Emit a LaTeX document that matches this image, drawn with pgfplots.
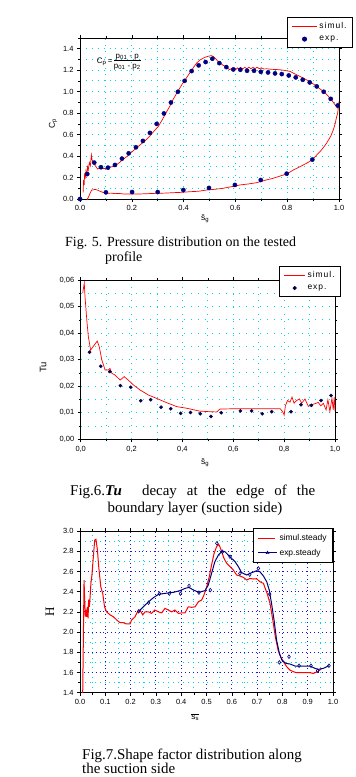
\documentclass[border=0pt]{standalone}
\usepackage{fontspec}
\setmainfont{Liberation Serif}
\setsansfont{Liberation Sans}
\usepackage{pgfplots}
\pgfplotsset{compat=1.18}
\definecolor{navyb}{RGB}{0,0,128}
\definecolor{gridc}{RGB}{0,215,225}
\definecolor{gridb}{RGB}{20,20,220}
\newcommand{\legfont}{\sffamily\fontsize{8.5}{10}\selectfont\addfontfeature{LetterSpace=12}}
\pgfplotsset{
  myax/.style={
    scale only axis, anchor=south west,
    axis line style={black, line width=0.8bp},
    tick style={black, line width=0.6bp},
    tick align=outside,
    major tick length=3bp, minor tick length=2bp,
    tick label style={font=\sffamily\fontsize{7.5}{8}\selectfont},
    /pgf/number format/assume math mode=true,
    label style={font=\sffamily\fontsize{8.5}{9}\selectfont},
    ylabel style={rotate=0, anchor=center},
    xlabel style={anchor=center},
    legend style={draw=black, line width=0.8bp, fill=white, font=\legfont, cells={anchor=west}, inner xsep=4bp, inner ysep=3bp, row sep=2bp},
    grid=both,
  },
  longline/.style={legend image code/.code={\draw[##1] (0bp,0bp) -- (#1,0bp);}},
  dotleg/.style={legend image code/.code={\draw[##1] plot coordinates {(#1/2,0bp)}; \path[draw=none] (0bp,0bp) -- (#1,0bp);}},
  explegend/.style={legend image code/.code={\draw[##1] (0bp,0bp) -- (19bp,0bp); \draw[navyb, line width=0.6bp] plot[mark=triangle, mark size=1.6bp] coordinates {(9.5bp,0bp)};}},
}
\begin{document}
\begin{tikzpicture}
\useasboundingbox (0,0) rectangle (356bp,-777bp);
% ---------------- Fig. 5 ----------------
\begin{axis}[myax, at={(80bp,-199bp)}, width=259bp, height=161bp,
  xmin=0, xmax=1, ymin=0, ymax=1.5,
  xtick={0,0.2,0.4,0.6,0.8,1.0}, minor xtick={0.1,0.3,0.5,0.7,0.9},
  ytick={0,0.2,0.4,0.6,0.8,1.0,1.2,1.4}, minor ytick={0.1,0.3,0.5,0.7,0.9,1.1,1.3,1.5},
  xticklabel style={/pgf/number format/.cd, fixed, fixed zerofill, precision=1},
  yticklabel style={/pgf/number format/.cd, fixed, fixed zerofill, precision=1},
  grid style={gridc, line width=0.9bp, dash pattern=on 0.9bp off 5bp},
  minor grid style={gridc, line width=0.9bp, dash pattern=on 0.9bp off 5bp},
  xlabel={\={s}\textsubscript{g}}, ylabel={C\textsubscript{p}},
  xlabel style={at={(axis description cs:0.483,-0.124)}},
  ylabel style={at={(axis description cs:-0.104,0.47)}},
  legend style={at={(1.054,1.13)}, anchor=north east},
]
\addplot[red, line width=0.7bp, longline=25bp] coordinates {
(0.012,0.06)(0.014,0.18)(0.016,0.13)(0.018,0.24)(0.020,0.19)(0.023,0.26)(0.026,0.22)(0.029,0.30)(0.032,0.27)(0.036,0.34)(0.040,0.31)(0.044,0.41)(0.047,0.36)(0.051,0.35)(0.056,0.32)(0.062,0.30)(0.068,0.28)(0.075,0.285)(0.082,0.30)(0.090,0.285)(0.100,0.285)(0.115,0.295)(0.135,0.308)(0.150,0.335)(0.167,0.370)(0.183,0.400)(0.199,0.436)(0.215,0.470)(0.232,0.504)(0.250,0.540)(0.270,0.588)(0.285,0.630)(0.302,0.675)(0.318,0.740)(0.335,0.815)(0.348,0.870)(0.360,0.930)(0.377,1.000)(0.393,1.064)(0.410,1.125)(0.425,1.179)(0.438,1.225)(0.450,1.266)(0.463,1.295)(0.476,1.313)(0.488,1.325)(0.500,1.333)(0.508,1.335)(0.515,1.328)(0.521,1.313)(0.530,1.290)(0.541,1.266)(0.553,1.245)(0.566,1.229)(0.572,1.215)(0.578,1.205)(0.584,1.215)(0.590,1.205)(0.596,1.220)(0.602,1.208)(0.608,1.222)(0.614,1.210)(0.620,1.225)(0.628,1.212)(0.636,1.226)(0.644,1.214)(0.652,1.228)(0.660,1.214)(0.668,1.226)(0.676,1.215)(0.684,1.228)(0.692,1.214)(0.700,1.222)(0.710,1.212)(0.722,1.213)(0.740,1.208)(0.760,1.206)(0.772,1.204)(0.790,1.198)(0.811,1.189)(0.824,1.172)(0.837,1.157)(0.850,1.141)(0.862,1.126)(0.875,1.110)(0.888,1.095)(0.900,1.073)(0.914,1.049)(0.927,1.025)(0.940,1.002)(0.953,0.972)(0.965,0.940)(0.975,0.910)(0.985,0.877)(0.993,0.855)(0.997,0.84)(1.000,0.91)
(0.998,0.87)(0.995,0.80)(0.991,0.768)(0.985,0.700)(0.978,0.644)(0.968,0.585)(0.952,0.520)(0.940,0.480)(0.927,0.442)(0.912,0.405)(0.897,0.367)(0.880,0.340)(0.862,0.317)(0.843,0.293)(0.824,0.271)(0.810,0.250)(0.798,0.233)(0.770,0.212)(0.746,0.193)(0.715,0.175)(0.682,0.152)(0.650,0.140)(0.618,0.131)(0.585,0.115)(0.553,0.100)(0.520,0.090)(0.489,0.084)(0.457,0.072)(0.425,0.068)(0.392,0.062)(0.360,0.059)(0.328,0.055)(0.296,0.053)(0.264,0.050)(0.232,0.047)(0.200,0.047)(0.167,0.047)(0.150,0.052)(0.135,0.050)(0.120,0.055)(0.103,0.053)(0.090,0.060)(0.080,0.070)(0.070,0.080)(0.058,0.090)(0.052,0.085)(0.045,0.084)(0.040,0.060)(0.035,0.030)(0.030,0.005)(0.027,-0.01)
};
\addlegendentry{simul.}
\addplot[only marks, mark=*, mark size=2.1bp, navyb, dotleg=25bp] coordinates {
(0,0)(0.028,0.233)(0.055,0.339)(0.081,0.296)(0.108,0.292)(0.135,0.317)(0.162,0.376)(0.188,0.426)(0.216,0.482)(0.243,0.541)(0.270,0.616)(0.296,0.700)(0.324,0.797)(0.351,0.899)(0.378,0.999)(0.404,1.101)(0.431,1.192)(0.458,1.245)(0.485,1.276)(0.511,1.307)(0.538,1.266)(0.565,1.229)(0.592,1.207)(0.619,1.204)(0.645,1.195)(0.672,1.195)(0.698,1.185)(0.726,1.179)(0.753,1.170)(0.779,1.164)(0.806,1.151)(0.833,1.133)(0.860,1.111)(0.887,1.086)(0.914,1.049)(0.941,0.999)(0.968,0.933)(0.995,0.871)
(0.100,0.062)(0.201,0.065)(0.300,0.065)(0.399,0.084)(0.498,0.103)(0.598,0.131)(0.698,0.177)(0.798,0.236)(0.897,0.367)
};
\addlegendentry{exp.}
\node[font=\sffamily\fontsize{8}{9}\selectfont] at (axis cs:0.15,1.28) {C\textsubscript{p}\,=\,\begin{tabular}{@{}c@{}}p\textsubscript{01} - p\\[-1pt]\hline\rule{0pt}{8pt}p\textsubscript{01} - p\textsubscript{2}\end{tabular}};
\end{axis}
% captions fig 5
\node[anchor=base west, font=\fontsize{14}{15}\selectfont, inner sep=0] at (65bp,-246bp) {Fig. 5. Pressure distribution on the tested};
\node[anchor=base west, font=\fontsize{14}{15}\selectfont, inner sep=0] at (105bp,-261bp) {profile};
% ---------------- Fig. 6 ----------------
\begin{axis}[myax, at={(80.7bp,-439.3bp)}, width=254.3bp, height=159.3bp,
  xmin=0, xmax=1, ymin=0, ymax=0.06,
  xtick={0,0.2,0.4,0.6,0.8,1.0}, minor xtick={0.1,0.3,0.5,0.7,0.9},
  ytick={0,0.01,0.02,0.03,0.04,0.05,0.06}, minor ytick={0.005,0.015,0.025,0.035,0.045,0.055},
  xticklabel style={/pgf/number format/.cd, fixed, fixed zerofill, precision=1, use comma},
  yticklabel style={/pgf/number format/.cd, fixed, fixed zerofill, precision=2, use comma},
  scaled y ticks=false,
  grid style={gridc, line width=0.9bp, dash pattern=on 0.9bp off 6bp},
  minor grid style={gridc, line width=0.9bp, dash pattern=on 0.9bp off 6bp},
  xlabel={\={s}\textsubscript{g}}, ylabel={Tu},
  xlabel style={at={(axis description cs:0.489,-0.149)}},
  ylabel style={at={(axis description cs:-0.148,0.45)}, font=\sffamily\fontsize{9.5}{10}\selectfont},
  legend style={at={(1.024,1.088)}, anchor=north east},
]
\addplot[red, line width=0.7bp, longline=21bp] coordinates {
(0.008,0.0552)(0.014,0.0588)(0.017,0.0537)(0.024,0.0449)(0.030,0.0387)(0.039,0.0336)(0.050,0.0351)(0.065,0.0370)(0.073,0.0349)(0.083,0.0299)(0.096,0.0261)(0.109,0.0261)(0.115,0.0267)(0.122,0.0249)(0.135,0.0242)(0.155,0.0223)(0.171,0.0236)(0.187,0.0223)(0.207,0.0205)(0.233,0.0186)(0.266,0.0167)(0.299,0.0154)(0.338,0.0138)(0.378,0.0123)(0.417,0.0117)(0.469,0.0106)(0.508,0.0104)(0.535,0.0103)(0.548,0.0114)(0.600,0.0115)(0.784,0.0115)(0.794,0.0105)(0.800,0.0091)(0.805,0.0126)(0.813,0.0146)(0.823,0.0140)(0.831,0.0159)(0.839,0.0136)(0.849,0.0146)(0.860,0.0152)(0.869,0.0136)(0.882,0.0152)(0.895,0.0124)(0.908,0.0130)(0.921,0.0134)(0.934,0.0139)(0.944,0.0126)(0.954,0.0136)(0.965,0.0111)(0.972,0.0149)(0.980,0.0105)(0.988,0.0155)(0.993,0.0111)(0.997,0.0159)(1.0,0.0105)
};
\addlegendentry{simul.}
\addplot[only marks, mark=*, mark size=1.6bp, navyb!60!black, dotleg=21bp] coordinates {
(0.035,0.0328)(0.079,0.0275)(0.115,0.0255)(0.156,0.0202)(0.197,0.0196)(0.236,0.0145)(0.275,0.0149)(0.316,0.0121)(0.354,0.0115)(0.393,0.0098)(0.432,0.0101)(0.470,0.0096)(0.512,0.0086)(0.553,0.0100)(0.628,0.0107)(0.672,0.0107)(0.714,0.0096)(0.751,0.0104)(0.827,0.0104)(0.866,0.0130)(0.907,0.0128)(0.945,0.0146)(0.984,0.0165)
};
\addlegendentry{exp.}
\end{axis}
% caption fig 6
\node[anchor=base west, font=\fontsize{15}{16}\selectfont, inner sep=0] at (70bp,-495bp) {\makebox[245bp][s]{Fig.6.\textbf{\textit{Tu}} \ decay at the edge of the}};
\node[anchor=base, font=\fontsize{15}{16}\selectfont, inner sep=0] at (195bp,-512bp) {boundary layer (suction side)};
% ---------------- Fig. 7 ----------------
\begin{axis}[myax, at={(80bp,-692.7bp)}, width=253bp, height=161.7bp,
  xmin=0, xmax=1, ymin=1.4, ymax=3.0,
  xtick={0,0.1,0.2,0.3,0.4,0.5,0.6,0.7,0.8,0.9,1.0},
  minor xtick={0.05,0.15,0.25,0.35,0.45,0.55,0.65,0.75,0.85,0.95},
  ytick={1.4,1.6,1.8,2.0,2.2,2.4,2.6,2.8,3.0}, minor ytick={1.5,1.7,1.9,2.1,2.3,2.5,2.7,2.9},
  xticklabel style={/pgf/number format/.cd, fixed, fixed zerofill, precision=1},
  yticklabel style={/pgf/number format/.cd, fixed, fixed zerofill, precision=1},
  grid style={gridb, line width=0.9bp, dash pattern=on 0.9bp off 3bp},
  minor grid style={gridc, line width=0.9bp, dash pattern=on 0.9bp off 4bp},
  xlabel={$\overline{\mbox{\sffamily s\textsubscript{s}}}$},
  ylabel={H},
  xlabel style={at={(axis description cs:0.455,-0.150)}},
  ylabel style={at={(axis description cs:-0.119,0.5)}, font=\rmfamily\fontsize{13}{14}\selectfont},
  legend style={at={(1.0,1.019)}, anchor=north east, font=\sffamily\fontsize{8.5}{10}\selectfont, inner xsep=4bp, inner ysep=4bp, row sep=3bp},
]
\addplot[red, line width=1bp] coordinates {
(0.0105,1.35)(0.016,2.515)(0.018,2.35)(0.021,2.152)(0.023,2.22)(0.026,2.15)(0.029,2.25)(0.032,2.135)(0.034,2.32)(0.037,2.25)(0.040,2.35)(0.043,2.48)(0.047,2.56)(0.053,2.75)(0.058,2.91)(0.063,2.918)(0.069,2.81)(0.074,2.647)(0.082,2.45)(0.090,2.38)(0.097,2.25)(0.105,2.20)(0.119,2.17)(0.132,2.152)(0.145,2.12)(0.158,2.093)(0.171,2.093)(0.184,2.08)(0.198,2.08)(0.204,2.12)(0.217,2.15)(0.227,2.20)(0.237,2.218)(0.248,2.17)(0.257,2.20)(0.270,2.20)(0.283,2.185)(0.296,2.218)(0.310,2.20)(0.323,2.19)(0.336,2.235)(0.349,2.218)(0.362,2.20)(0.375,2.218)(0.389,2.185)(0.402,2.19)(0.415,2.19)(0.428,2.25)(0.441,2.245)(0.455,2.25)(0.468,2.30)(0.481,2.317)(0.490,2.367)(0.501,2.45)(0.511,2.548)(0.520,2.663)(0.530,2.779)(0.540,2.845)(0.548,2.868)(0.553,2.845)(0.560,2.795)(0.569,2.73)(0.580,2.68)(0.593,2.647)(0.606,2.614)(0.619,2.565)(0.632,2.555)(0.646,2.541)(0.659,2.515)(0.672,2.531)(0.685,2.525)(0.698,2.528)(0.711,2.498)(0.725,2.482)(0.731,2.44)(0.740,2.38)(0.751,2.284)(0.762,2.12)(0.772,1.954)(0.783,1.822)(0.793,1.756)(0.804,1.707)(0.817,1.657)(0.830,1.624)(0.843,1.608)(0.856,1.598)(0.883,1.598)(0.909,1.598)(0.922,1.591)(0.942,1.611)(0.955,1.641)
};
\addlegendentry{simul.steady}
\addplot[navyb, line width=1bp, explegend] coordinates {
(0.232,2.205)(0.250,2.25)(0.271,2.30)(0.290,2.34)(0.310,2.373)(0.336,2.383)(0.369,2.393)(0.395,2.41)(0.415,2.432)(0.431,2.442)(0.448,2.416)(0.470,2.393)(0.494,2.41)(0.507,2.465)(0.520,2.58)(0.533,2.696)(0.547,2.762)(0.560,2.795)(0.573,2.795)(0.586,2.762)(0.599,2.73)(0.613,2.696)(0.626,2.647)(0.639,2.588)(0.659,2.565)(0.679,2.588)(0.698,2.607)(0.711,2.597)(0.725,2.555)(0.738,2.498)(0.748,2.416)(0.757,2.284)(0.767,2.12)(0.777,1.921)(0.788,1.789)(0.798,1.723)(0.814,1.69)(0.830,1.684)(0.850,1.664)(0.870,1.664)(0.909,1.664)(0.929,1.641)(0.942,1.631)(0.962,1.641)(0.984,1.667)
};
\addlegendentry{exp.steady}
\addplot[only marks, mark=diamond, mark size=1.8bp, navyb, line width=0.6bp, forget plot] coordinates {
(0.232,2.205)(0.271,2.29)(0.314,2.38)(0.353,2.38)(0.397,2.38)(0.431,2.456)(0.470,2.39)(0.515,2.416)(0.541,2.878)(0.563,2.795)(0.593,2.746)(0.632,2.58)(0.671,2.568)(0.705,2.63)(0.750,2.376)(0.788,1.70)(0.826,1.756)(0.866,1.667)(0.913,1.667)(0.939,1.617)(0.984,1.667)
};
\end{axis}
% caption fig 7
\node[anchor=base west, font=\fontsize{15}{16}\selectfont, inner sep=0] at (82bp,-759bp) {Fig.7.Shape factor distribution along};
\node[anchor=base west, font=\fontsize{15}{16}\selectfont, inner sep=0] at (82bp,-773bp) {the suction side};
\end{tikzpicture}
\end{document}
